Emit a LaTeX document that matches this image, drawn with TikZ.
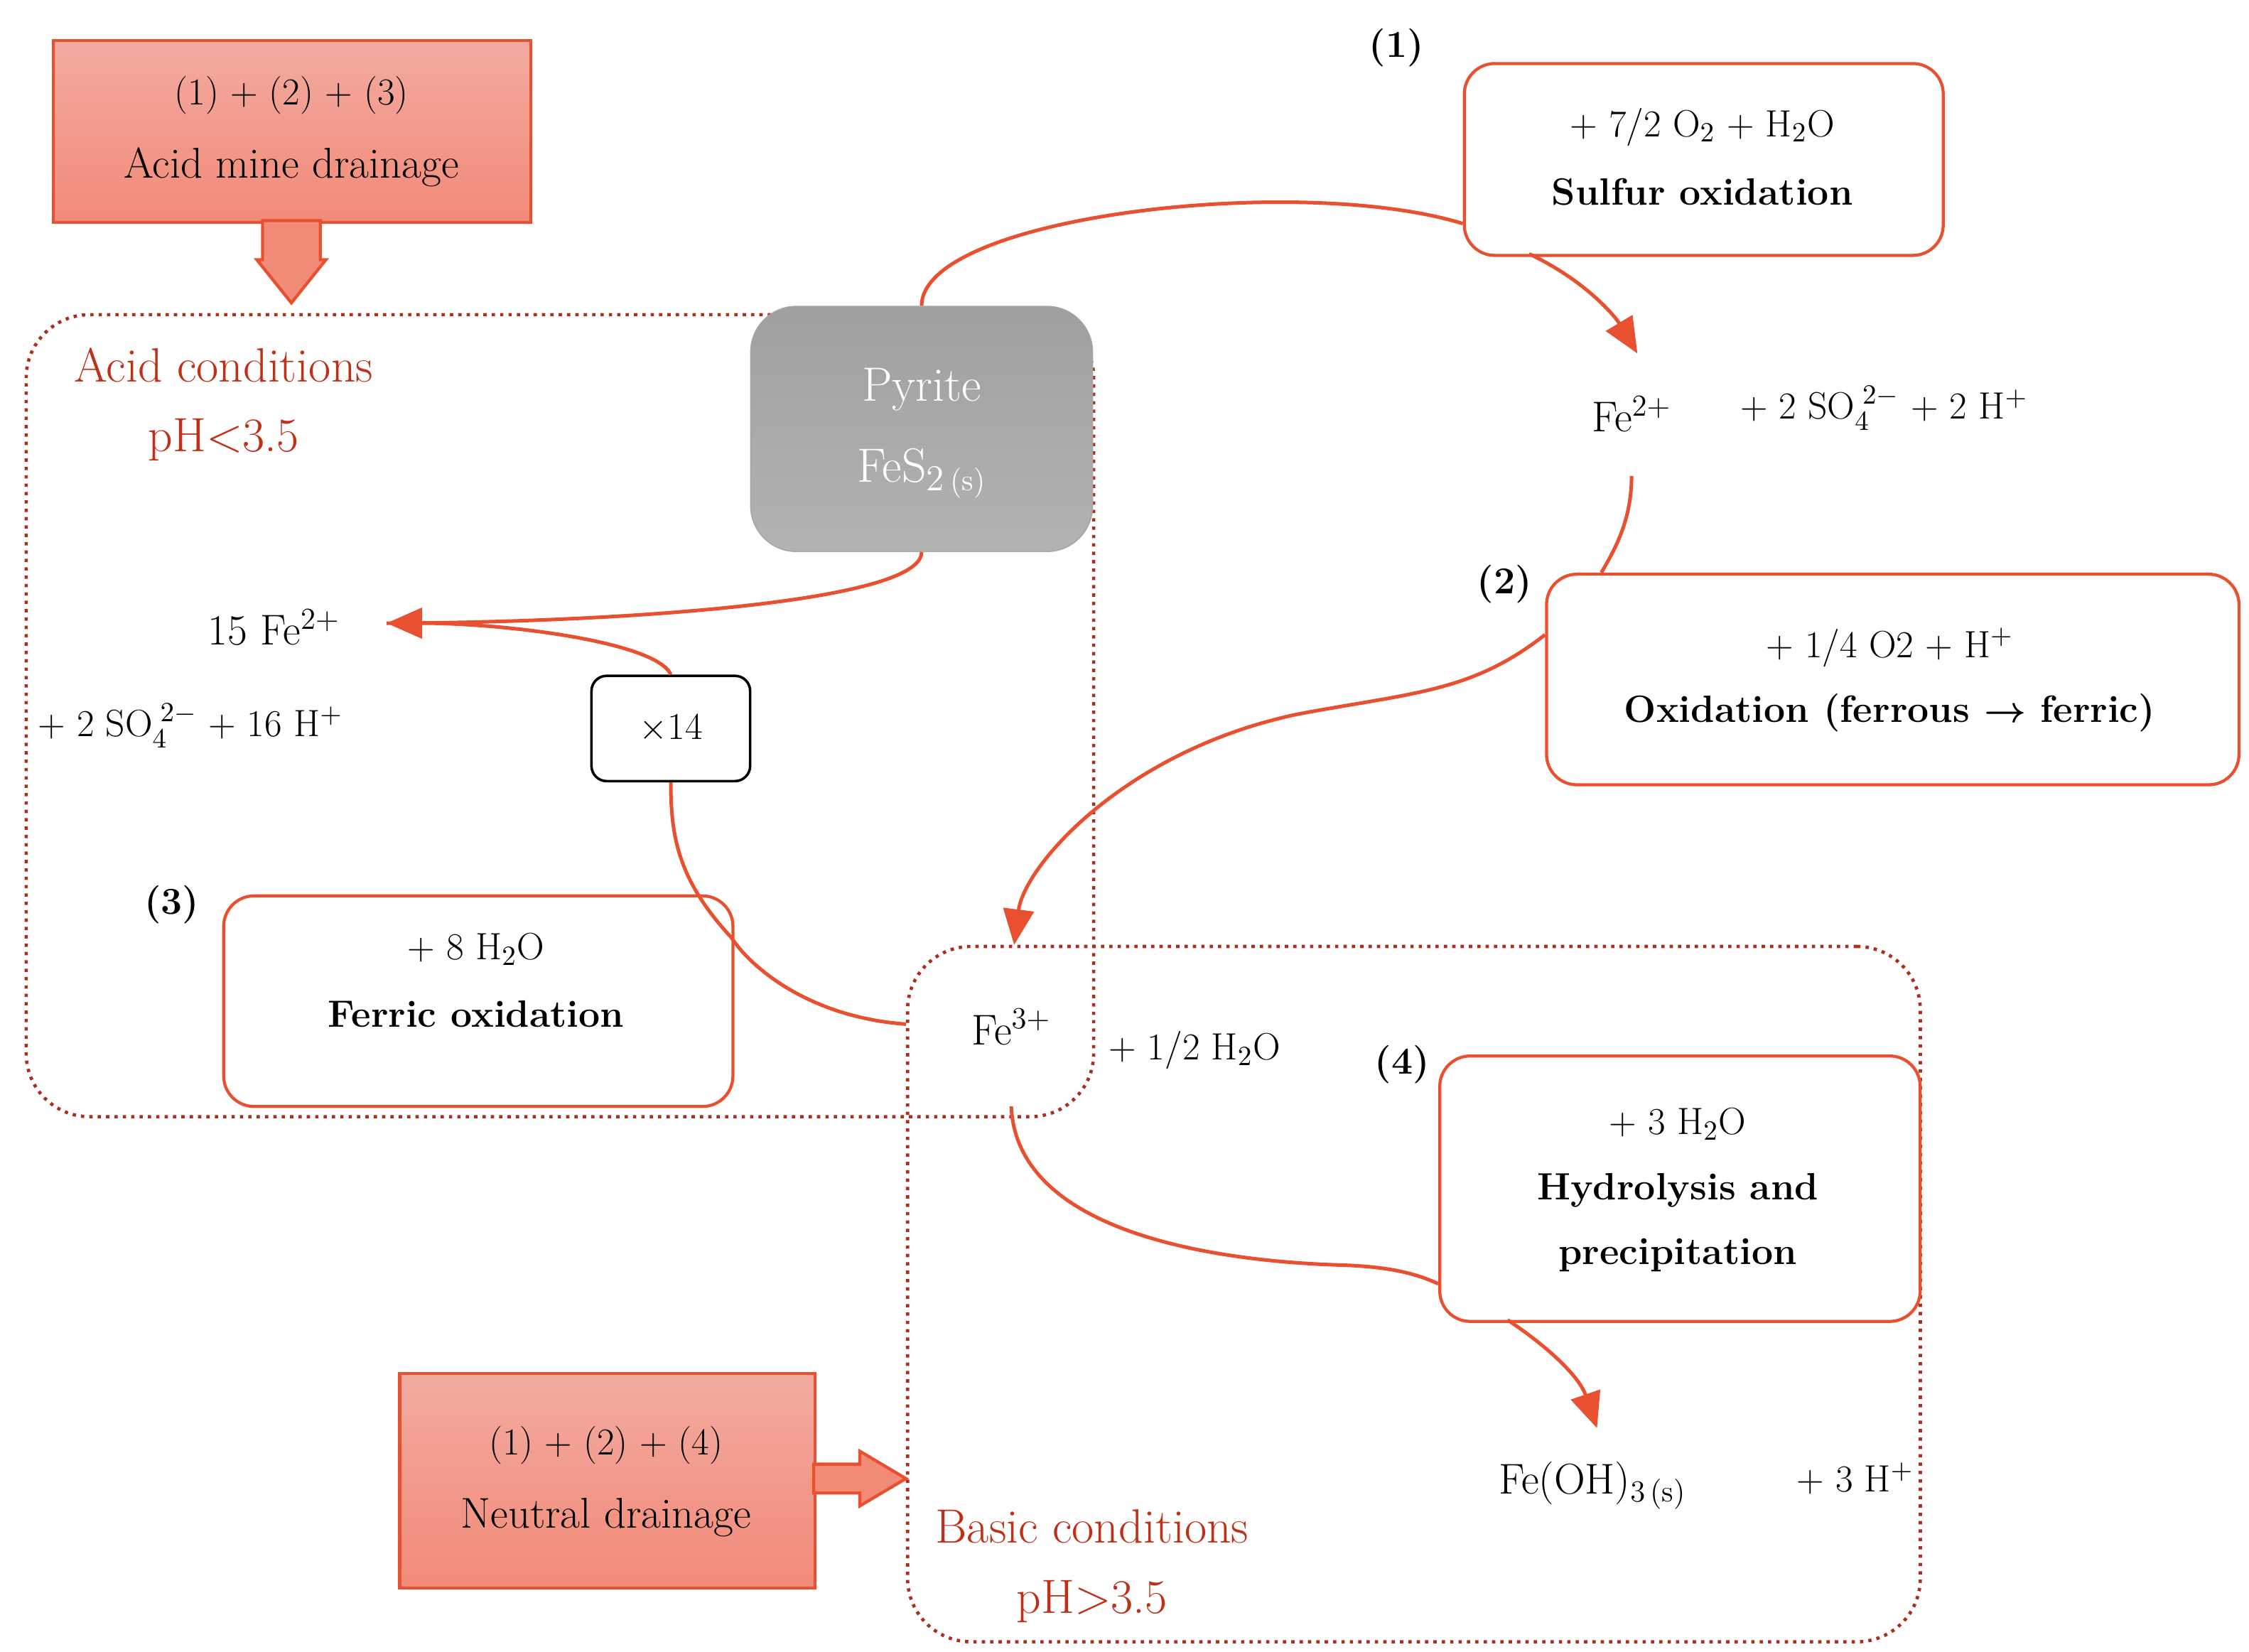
\documentclass[tikz,border=0pt]{standalone}
\usepackage{amsmath,bm}
\usetikzlibrary{arrows.meta}
\definecolor{org}{HTML}{E8502F}
\definecolor{dred}{HTML}{A8301C}
\definecolor{lred}{HTML}{C03018}
\definecolor{salA}{HTML}{F2ABA0}
\definecolor{salB}{HTML}{F28A78}
\begin{document}
\begin{tikzpicture}[x=0.02cm,y=-0.02cm,font=\fontsize{15}{18}\selectfont,
  rbox/.style={draw=org,line width=1.2pt,rounded corners=12pt,fill=white},
  sbox/.style={draw=org,line width=1.2pt,top color=salA,bottom color=salB},
  dbox/.style={draw=dred,line width=1.3pt,dotted,rounded corners=25pt},
  con/.style={draw=org,line width=1.4pt},
  arr/.style={con,-{Triangle[length=14pt,width=12pt]}},
  fat/.style={draw=org,line width=1.2pt,fill=salB},
  lab/.style={font=\fontsize{15}{18}\selectfont\bfseries},
  red/.style={text=lred,font=\fontsize{19}{22}\selectfont}]
\useasboundingbox (0,0) rectangle (1559,1145);
% dotted regions
\node[dbox,minimum width=740*0.02cm,minimum height=556*0.02cm,anchor=north west] (acid) at (17,217) {};
\node[dbox,minimum width=702*0.02cm,minimum height=482*0.02cm,anchor=north west] (basic) at (628,655) {};
\node[red] (acidl) at (155,253) {Acid conditions};
\node[red] (acidph) at (155,305) {pH<3.5};
\node[red] (basl) at (757,1058) {Basic conditions};
\node[red] (basph) at (757,1110) {pH>3.5};
% AMD box
\node[sbox,minimum width=331*0.02cm,minimum height=126*0.02cm,anchor=north west] (amd) at (36,27) {};
\node (amd1) at (202,66) {(1) + (2) + (3)};
\node[font=\fontsize{17}{20}\selectfont] (amd2) at (202,116) {Acid mine drainage};
\draw[fat] (182,153) -- (222,153) -- (222,180) -- (226,180) -- (202,210) -- (178,180) -- (182,180) -- cycle;
% ND box
\node[sbox,minimum width=288*0.02cm,minimum height=149*0.02cm,anchor=north west] (nd) at (276,951) {};
\node (nd1) at (420,1002) {(1) + (2) + (4)};
\node[font=\fontsize{17}{20}\selectfont] (nd2) at (420,1052) {Neutral drainage};
\draw[fat] (564,1015) -- (596,1015) -- (596,1006) -- (628,1025) -- (596,1044) -- (596,1035) -- (564,1035) -- cycle;
% Pyrite
\node[draw=gray!70,rounded corners=18pt,top color=gray!75,bottom color=gray!100!black!60,minimum width=237*0.02cm,minimum height=170*0.02cm,anchor=north west] (pyr) at (520,212) {};
\node[text=white,font=\fontsize{19}{22}\selectfont] (pyr1) at (639,270) {Pyrite};
\node[text=white,font=\fontsize{19}{22}\selectfont] (pyr2) at (639,328) {FeS$_{2\,\mbox{\fontsize{12}{14}\selectfont(s)}}$};
% Box 1
\node[lab] (n1) at (968,33) {(1)};
\node[rbox,minimum width=332*0.02cm,minimum height=133*0.02cm,anchor=north west] (b1) at (1014,43) {};
\node (b1a) at (1180,88) {+ 7/2 O$_2$ + H$_2$O};
\node[lab] (b1b) at (1180,133) {Sulfur oxidation};
% Box 2
\node[lab] (n2) at (1043,405) {(2)};
\node[rbox,minimum width=480*0.02cm,minimum height=146*0.02cm,anchor=north west] (b2) at (1071,397) {};
\node (b2a) at (1310,449) {+ 1/4 O2 + H$^+$};
\node[lab] (b2b) at (1310,494) {Oxidation (ferrous $\bm{\rightarrow}$ ferric)};
% Box 3
\node[lab] (n3) at (119,627) {(3)};
\node[rbox,minimum width=353*0.02cm,minimum height=146*0.02cm,anchor=north west] (b3) at (154,620) {};
\node (b3a) at (330,658) {+ 8 H$_2$O};
\node[lab] (b3b) at (330,703) {Ferric oxidation};
% Box 4
\node[lab] (n4) at (972,738) {(4)};
\node[rbox,minimum width=333*0.02cm,minimum height=184*0.02cm,anchor=north west] (b4) at (997,731) {};
\node (b4a) at (1163,779) {+ 3 H$_2$O};
\node[lab] (b4b) at (1163,825) {Hydrolysis and};
\node[lab] (b4c) at (1163,870) {precipitation};
% x14
\node[draw,line width=1pt,rounded corners=6pt,minimum width=110*0.02cm,minimum height=73*0.02cm] (x14) at (465,505) {$\times$14};
% species
\node[font=\fontsize{17}{20}\selectfont] (fe2a) at (1131,287) {Fe$^{2+}$};
\node (so4a) at (1306,283) {+ 2 SO$_4^{\;2-}$ + 2 H$^+$};
\node[font=\fontsize{17}{20}\selectfont] (fe2b) at (190,435) {15 Fe$^{2+}$};
\node (so4b) at (132,503) {+ 2 SO$_4^{\;2-}$ + 16 H$^+$};
\node[font=\fontsize{17}{20}\selectfont] (fe3) at (701,712) {Fe$^{3+}$};
\node (h2o) at (828,728) {+ 1/2 H$_2$O};
\node[font=\fontsize{17}{20}\selectfont] (feoh) at (1104,1030) {Fe(OH)$_{3\,\mbox{\fontsize{12}{14}\selectfont(s)}}$};
\node (h3) at (1286,1025) {+ 3 H$^+$};
% connectors
\coordinate (c1) at (1014,155);
\coordinate (c2) at (1060,176);
\coordinate (t1) at (1135,245);
\draw[con] (pyr.north) .. controls (639,150) and (900,120) .. (c1);
\draw[arr] (c2) .. controls (1100,195) and (1120,220) .. (t1);
\coordinate (c3) at (1131,330);
\coordinate (c4) at (1110,397);
\draw[con] (c3) .. controls (1131,360) and (1120,380) .. (c4);
\coordinate (c5) at (1071,440);
\coordinate (t2) at (703,655);
\draw[arr] (c5) .. controls (1020,480) and (980,480) .. (900,495) .. controls (780,520) and (710,600) .. (t2);
\coordinate (c6) at (701,767);
\coordinate (c7) at (997,890);
\draw[con] (c6) .. controls (705,860) and (860,875) .. (930,877) .. controls (960,878) and (980,882) .. (c7);
\coordinate (c8) at (1045,915);
\coordinate (t3) at (1107,990);
\draw[arr] (c8) .. controls (1075,935) and (1095,955) .. (t3);
\coordinate (c9) at (628,710);
\coordinate (c10) at (507,650);
\draw[con] (c9) .. controls (560,705) and (520,670) .. (c10);
\draw[con] (c10) .. controls (470,610) and (465,580) .. (x14.south);
\coordinate (t4) at (268,432);
\draw[arr] (x14.north) .. controls (455,445) and (350,432) .. (t4);
\draw[con] (pyr.south) .. controls (639,420) and (400,432) .. (t4);
\end{tikzpicture}
\end{document}
